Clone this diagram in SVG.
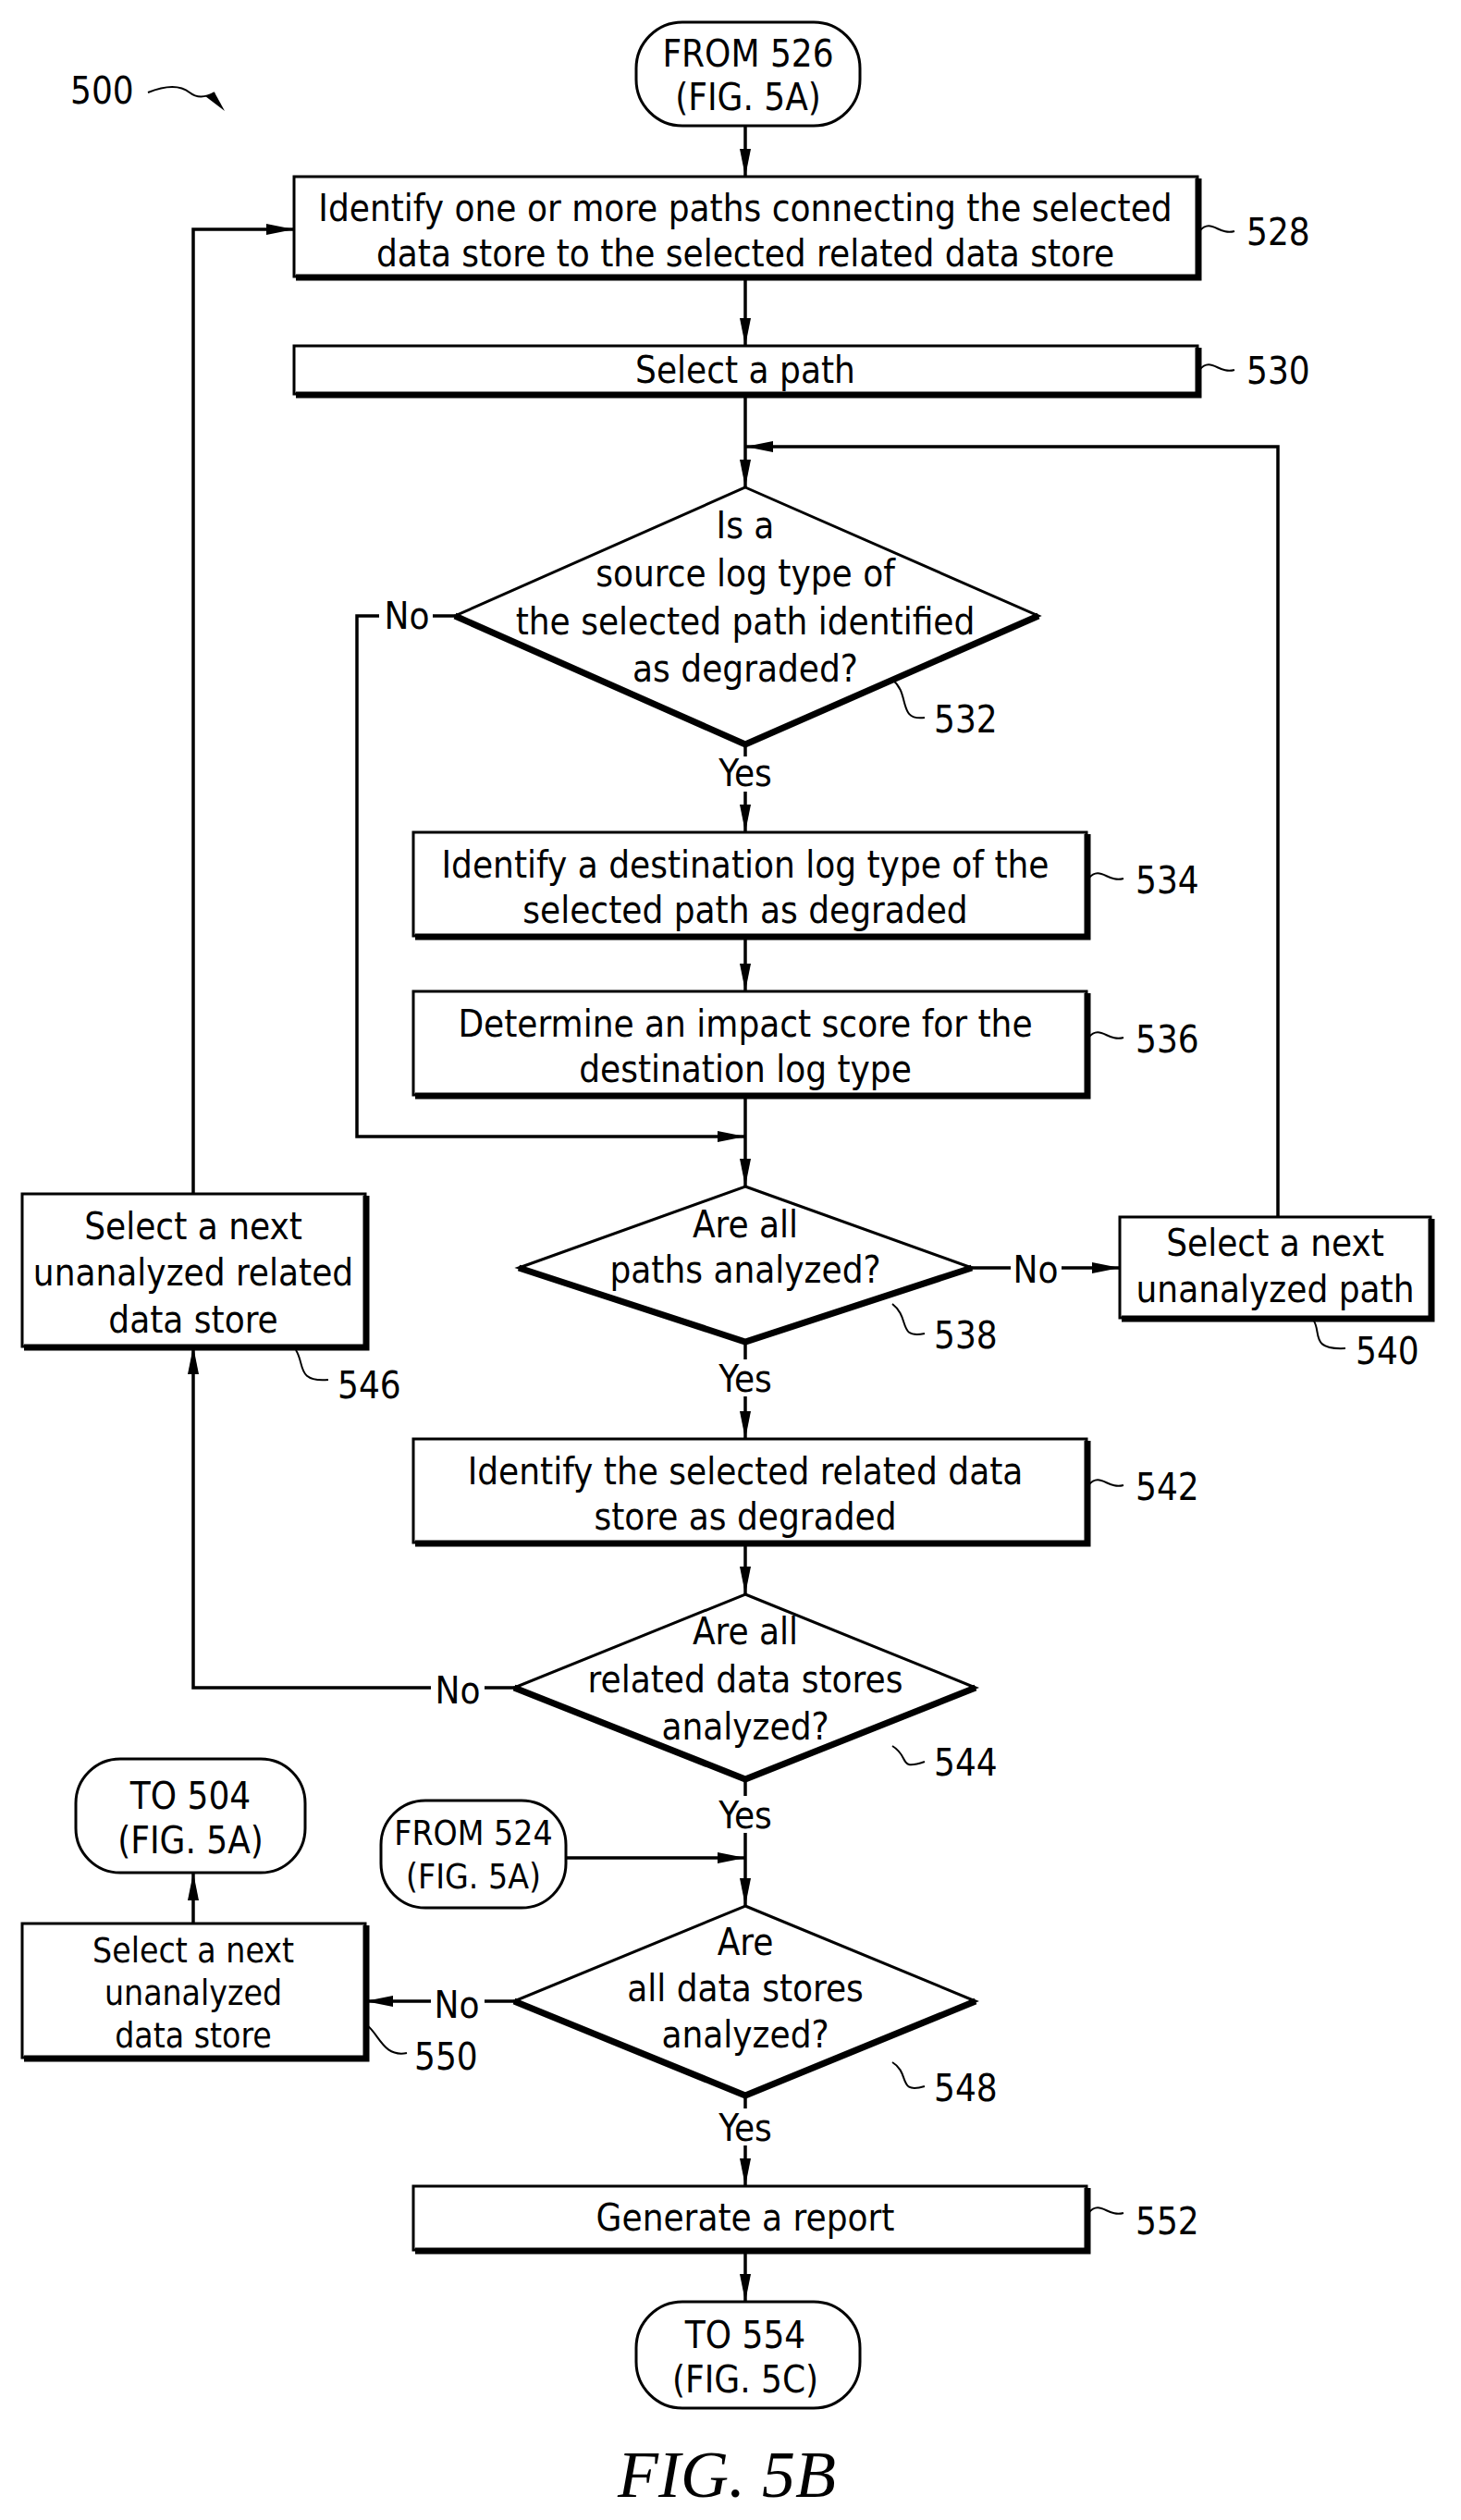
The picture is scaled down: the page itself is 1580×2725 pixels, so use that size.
<svg xmlns="http://www.w3.org/2000/svg" width="1580" height="2725" viewBox="0 0 1580 2725">
<style>
text{font-family:"DejaVu Sans Condensed","DejaVu Sans",sans-serif;font-size:40px;fill:#000;text-anchor:middle}
.n{text-anchor:start}
.s{font-size:37px}
.b{fill:#fff;stroke:#000;stroke-width:3}
.sh{fill:none;stroke:#000;stroke-width:7}
.c{fill:none;stroke:#000;stroke-width:3.5}
.q{fill:none;stroke:#000;stroke-width:2}
</style>
<defs>
<marker id="a" markerWidth="30" markerHeight="12" refX="30" refY="6" orient="auto" markerUnits="userSpaceOnUse" viewBox="0 0 30 12">
<path d="M0,0 L30,6 L0,12 z" fill="#000"/>
</marker>
</defs>
<text class="n" x="76" y="112">500</text>
<path class="q" d="M160,100 C180,92 195,92 205,100 S225,104 232,100"/>
<path d="M232,100 L243,120 L222,104 z" fill="#000"/>

<g id="connectors">
<path class="c" d="M806,136 V191" marker-end="url(#a)"/>
<path class="c" d="M806,299 V374" marker-end="url(#a)"/>
<path class="c" d="M806,426 V527" marker-end="url(#a)"/>
<path class="c" d="M1382,1316 V483 H806" marker-end="url(#a)"/>
<path class="c" d="M806,805 V818 M806,856 V900" marker-end="url(#a)"/>
<path class="c" d="M806,1012 V1072" marker-end="url(#a)"/>
<path class="c" d="M492,666 H468 M410,666 H386 V1229 H806" marker-end="url(#a)"/>
<path class="c" d="M806,1184 V1283" marker-end="url(#a)"/>
<path class="c" d="M1051,1371 H1093 M1148,1371 H1211" marker-end="url(#a)"/>
<path class="c" d="M806,1451 V1470 M806,1510 V1556" marker-end="url(#a)"/>
<path class="c" d="M806,1668 V1724" marker-end="url(#a)"/>
<path class="c" d="M556,1825 H524 M466,1825 H209 V1456" marker-end="url(#a)"/>
<path class="c" d="M209,1291 V248 H318" marker-end="url(#a)"/>
<path class="c" d="M806,1924 V1942 M806,1982 V2061" marker-end="url(#a)"/>
<path class="c" d="M612,2009 H806" marker-end="url(#a)"/>
<path class="c" d="M556,2164 H524 M466,2164 H395" marker-end="url(#a)"/>
<path class="c" d="M209,2080 V2025" marker-end="url(#a)"/>
<path class="c" d="M806,2266 V2280 M806,2320 V2364" marker-end="url(#a)"/>
<path class="c" d="M806,2433 V2489" marker-end="url(#a)"/>
</g>

<g id="t526"><rect class="b" x="688" y="24" width="242" height="112" rx="50"/><text x="809" y="72">FROM 526</text><text x="809" y="119">(FIG. 5A)</text></g>

<g id="n528"><rect class="b" x="318" y="191" width="977" height="108"/><path class="sh" d="M320,300 H1296 V193"/>
<text x="806" y="239">Identify one or more paths connecting the selected</text><text x="806" y="288">data store to the selected related data store</text>
<path class="q" d="M1297,250 C1310,235 1318,255 1335,250"/><text class="n" x="1348" y="265">528</text></g>

<g id="n530"><rect class="b" x="318" y="374" width="977" height="52"/><path class="sh" d="M320,427 H1296 V376"/>
<text x="806" y="414">Select a path</text>
<path class="q" d="M1297,400 C1310,385 1318,405 1335,400"/><text class="n" x="1348" y="415">530</text></g>

<g id="n532"><polygon class="b" points="806,527 1123,666 806,805 492,666"/><path class="sh" d="M492,666 L806,805 L1123,666"/>
<text x="806" y="582">Is a</text><text x="806" y="634">source log type of</text><text x="806" y="686">the selected path identified</text><text x="806" y="737">as degraded?</text>
<text x="440" y="680">No</text><text x="806" y="850">Yes</text>
<path class="q" d="M965,735 C985,750 970,780 1000,776"/><text class="n" x="1010" y="792">532</text></g>

<g id="n534"><rect class="b" x="447" y="900" width="728" height="112"/><path class="sh" d="M449,1013 H1176 V902"/>
<text x="806" y="949">Identify a destination log type of the</text><text x="806" y="998">selected path as degraded</text>
<path class="q" d="M1177,950 C1190,935 1198,955 1215,950"/><text class="n" x="1228" y="966">534</text></g>

<g id="n536"><rect class="b" x="447" y="1072" width="728" height="112"/><path class="sh" d="M449,1185 H1176 V1074"/>
<text x="806" y="1121">Determine an impact score for the</text><text x="806" y="1170">destination log type</text>
<path class="q" d="M1177,1122 C1190,1107 1198,1127 1215,1122"/><text class="n" x="1228" y="1138">536</text></g>

<g id="n538"><polygon class="b" points="806,1283 1051,1371 806,1451 561,1371"/><path class="sh" d="M561,1371 L806,1451 L1051,1371"/>
<text x="806" y="1338">Are all</text><text x="806" y="1387">paths analyzed?</text>
<text x="1120" y="1387">No</text><text x="806" y="1505">Yes</text>
<path class="q" d="M965,1410 C985,1425 970,1448 1000,1442"/><text class="n" x="1010" y="1458">538</text></g>

<g id="n540"><rect class="b" x="1211" y="1316" width="336" height="109"/><path class="sh" d="M1213,1426 H1548 V1318"/>
<text x="1379" y="1358">Select a next</text><text x="1379" y="1408">unanalyzed path</text>
<path class="q" d="M1420,1427 C1430,1440 1415,1460 1455,1458"/><text class="n" x="1466" y="1475">540</text></g>

<g id="n542"><rect class="b" x="447" y="1556" width="728" height="112"/><path class="sh" d="M449,1669 H1176 V1558"/>
<text x="806" y="1605">Identify the selected related data</text><text x="806" y="1654">store as degraded</text>
<path class="q" d="M1177,1606 C1190,1591 1198,1611 1215,1606"/><text class="n" x="1228" y="1622">542</text></g>

<g id="n544"><polygon class="b" points="806,1724 1055,1825 806,1924 556,1825"/><path class="sh" d="M556,1825 L806,1924 L1055,1825"/>
<text x="806" y="1778">Are all</text><text x="806" y="1830">related data stores</text><text x="806" y="1881">analyzed?</text>
<text x="495" y="1842">No</text><text x="806" y="1977">Yes</text>
<path class="q" d="M965,1888 C985,1900 970,1915 1000,1905"/><text class="n" x="1010" y="1920">544</text></g>

<g id="n546"><rect class="b" x="24" y="1291" width="371" height="165"/><path class="sh" d="M26,1457 H396 V1293"/>
<text x="209" y="1340">Select a next</text><text x="209" y="1390">unanalyzed related</text><text x="209" y="1441">data store</text>
<path class="q" d="M320,1460 C330,1475 320,1495 355,1492"/><text class="n" x="365" y="1512">546</text></g>

<g id="t524"><rect class="b" x="412" y="1947" width="200" height="116" rx="48"/><text class="s" x="512" y="1995">FROM 524</text><text class="s" x="512" y="2042">(FIG. 5A)</text></g>

<g id="t504"><rect class="b" x="82" y="1902" width="248" height="123" rx="48"/><text x="206" y="1956">TO 504</text><text x="206" y="2004">(FIG. 5A)</text></g>

<g id="n548"><polygon class="b" points="806,2061 1055,2164 806,2266 556,2164"/><path class="sh" d="M556,2164 L806,2266 L1055,2164"/>
<text x="806" y="2114">Are</text><text x="806" y="2164">all data stores</text><text x="806" y="2214">analyzed?</text>
<text x="494" y="2182">No</text><text x="806" y="2315">Yes</text>
<path class="q" d="M965,2230 C985,2242 970,2265 1000,2256"/><text class="n" x="1010" y="2272">548</text></g>

<g id="n550"><rect class="b" x="24" y="2080" width="371" height="145"/><path class="sh" d="M26,2226 H396 V2082"/>
<text class="s" x="209" y="2122">Select a next</text><text class="s" x="209" y="2168">unanalyzed</text><text class="s" x="209" y="2214">data store</text>
<path class="q" d="M397,2190 C410,2200 415,2225 440,2220"/><text class="n" x="448" y="2238">550</text></g>

<g id="n552"><rect class="b" x="447" y="2364" width="728" height="69"/><path class="sh" d="M449,2434 H1176 V2366"/>
<text x="806" y="2412">Generate a report</text>
<path class="q" d="M1177,2393 C1190,2378 1198,2398 1215,2393"/><text class="n" x="1228" y="2416">552</text></g>

<g id="t554"><rect class="b" x="688" y="2489" width="242" height="115" rx="50"/><text x="806" y="2539">TO 554</text><text x="806" y="2587">(FIG. 5C)</text></g>

<text x="786" y="2700" style="font-family:'Liberation Serif',serif;font-style:italic;font-size:72px">FIG. 5B</text>
</svg>
